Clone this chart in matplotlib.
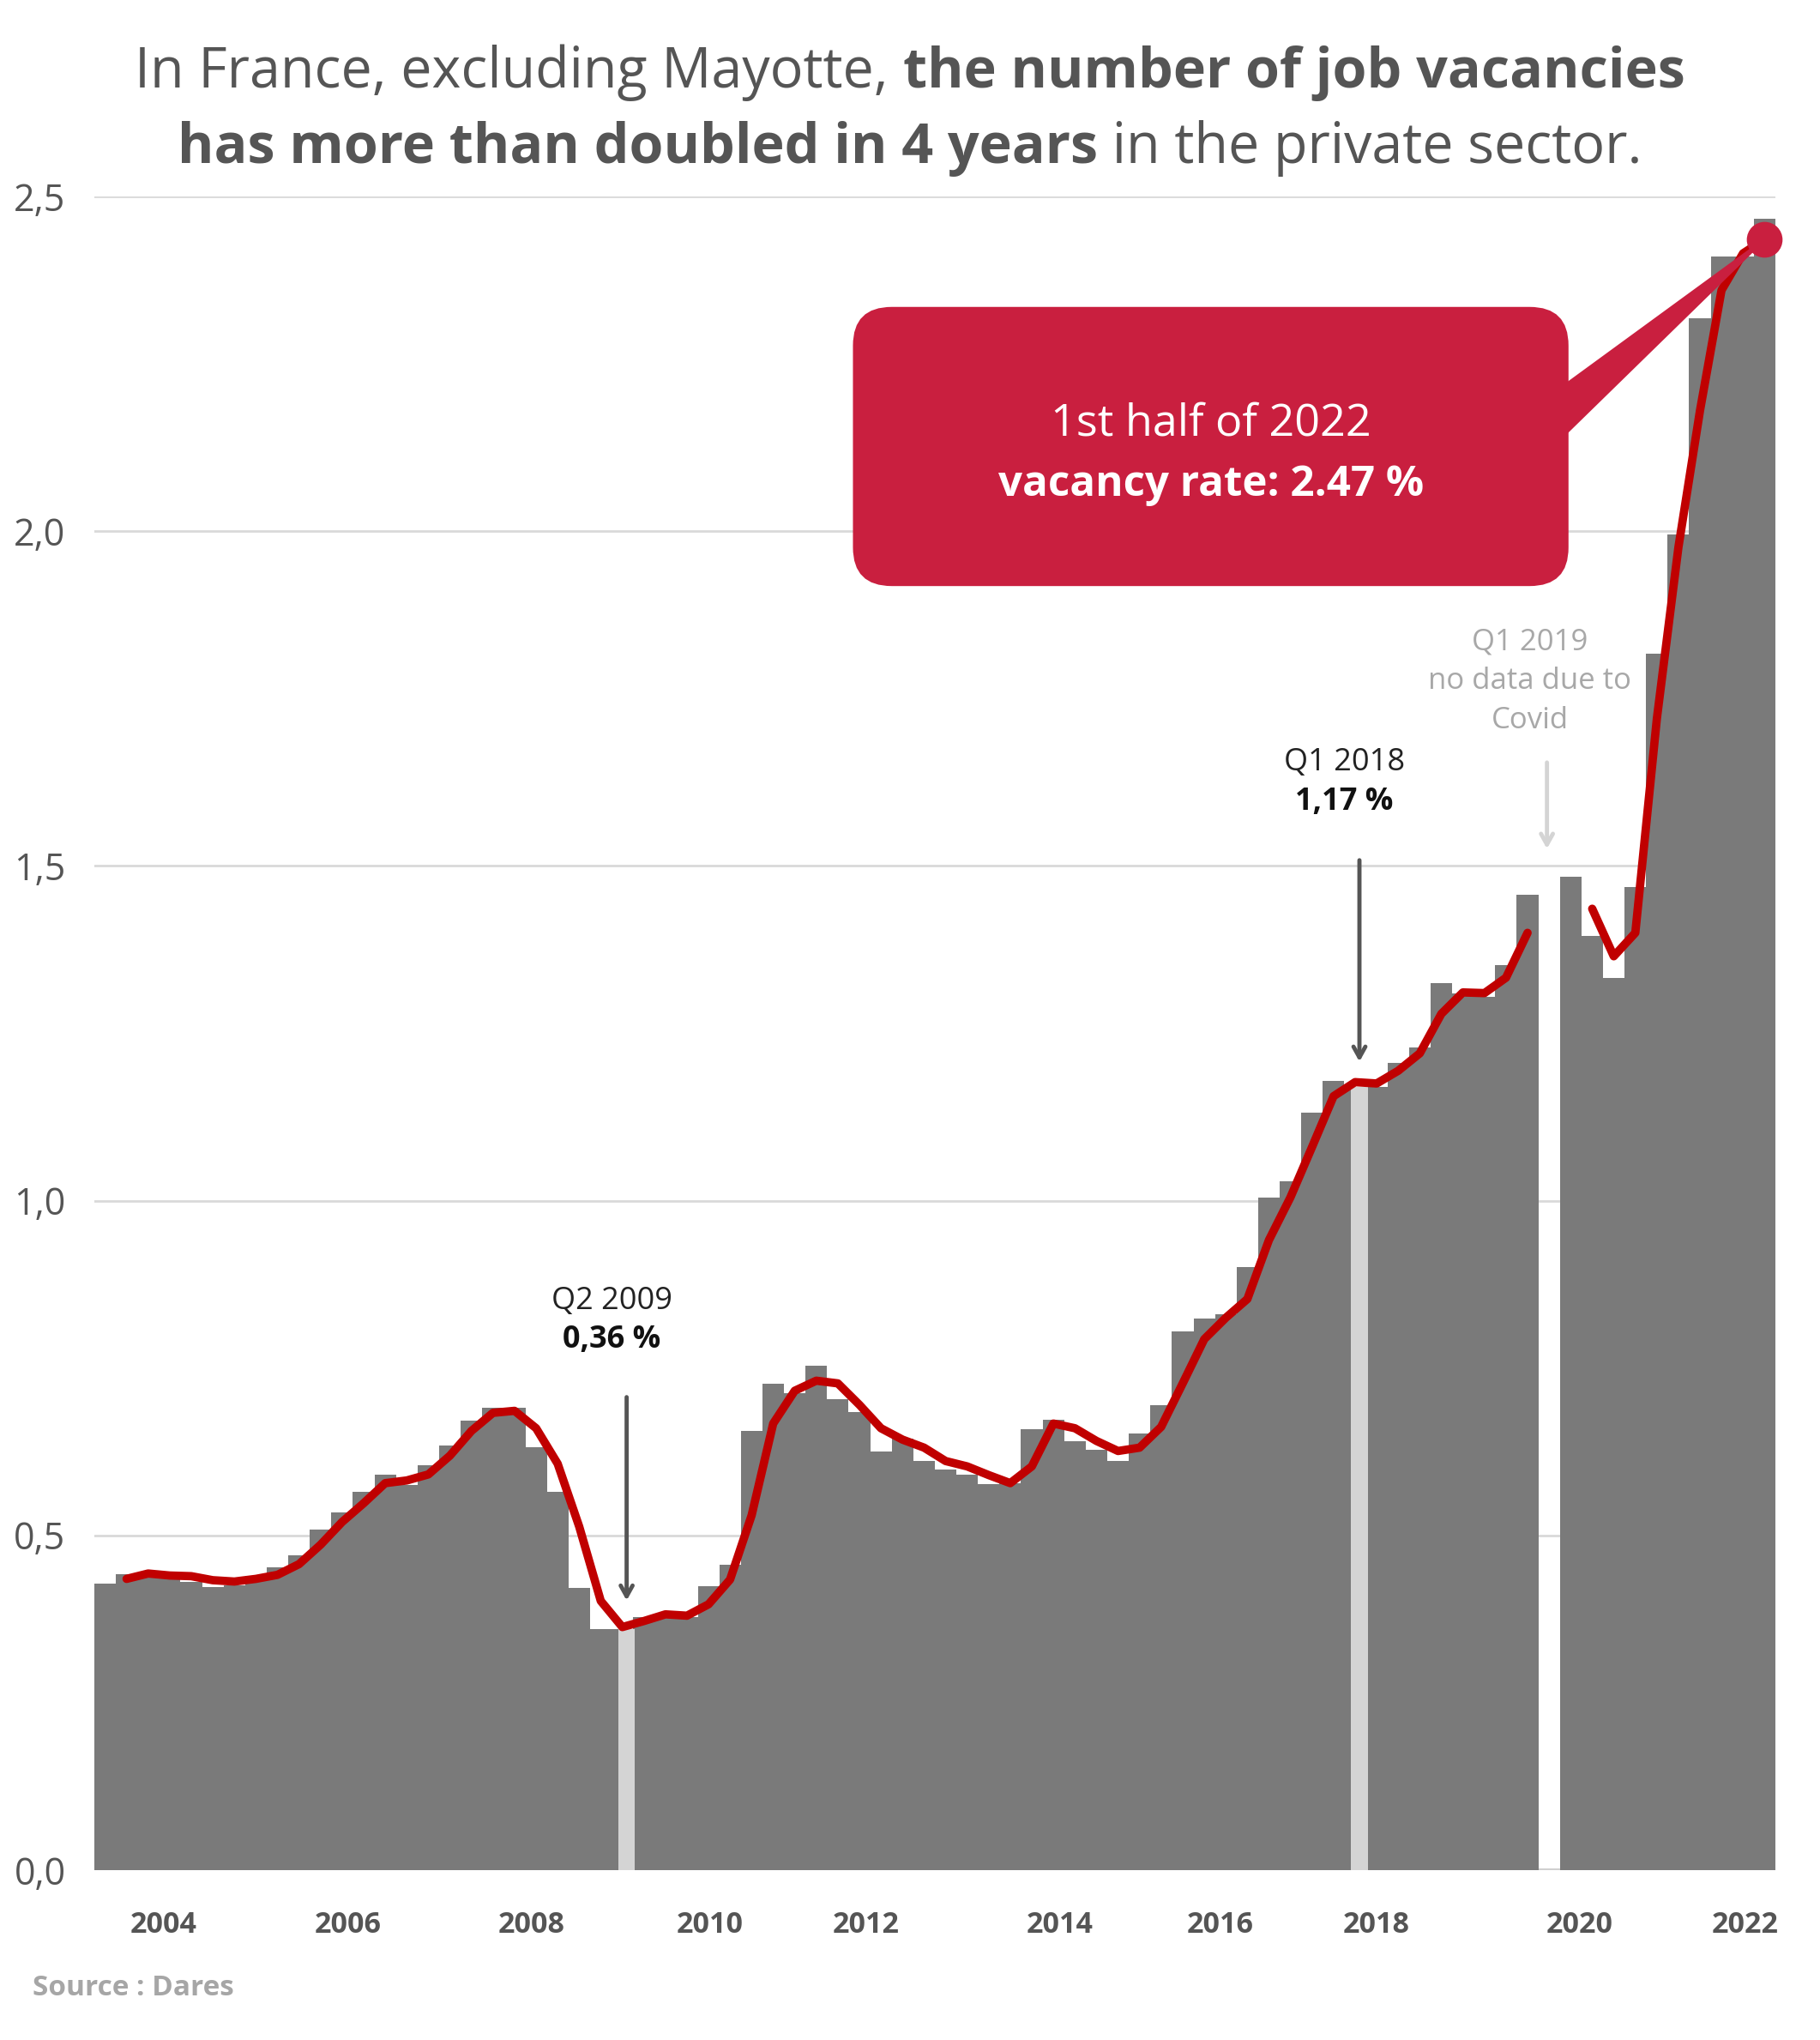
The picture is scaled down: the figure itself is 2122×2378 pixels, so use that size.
import numpy as np
import matplotlib
matplotlib.use("Agg")
from matplotlib import pyplot as plt
from matplotlib.patches import FancyBboxPatch, Polygon
from matplotlib.offsetbox import TextArea, HPacker, AnchoredOffsetbox

# quarterly job vacancy rate (%), 2003 Q2 -> 2022 Q3, one slot missing (Covid)
bar_values = [
    0.428, 0.442, 0.437, 0.435, 0.430, 0.423, 0.425, 0.440, 0.452, 0.470,
    0.509, 0.534, 0.565, 0.591, 0.575, 0.605, 0.634, 0.672, 0.690, 0.690,
    0.632, 0.565, 0.422, 0.360, 0.360, 0.378, 0.380, 0.378, 0.424, 0.456,
    0.656, 0.726, 0.712, 0.754, 0.703, 0.684, 0.625, 0.645, 0.611, 0.598,
    0.590, 0.576, 0.578, 0.659, 0.673, 0.640, 0.628, 0.611, 0.652, 0.694,
    0.805, 0.824, 0.830, 0.901, 1.005, 1.029, 1.132, 1.179, 1.167, 1.170,
    1.206, 1.229, 1.325, 1.310, 1.305, 1.352, 1.457, np.nan, 1.484, 1.395,
    1.333, 1.468, 1.817, 1.995, 2.318, 2.410, 2.410, 2.467,
]

# smoothed trend (red line)
trend_values = [
    np.nan, 0.435, 0.443, 0.440, 0.439, 0.433, 0.431, 0.435, 0.441, 0.457,
    0.486, 0.520, 0.548, 0.578, 0.582, 0.591, 0.619, 0.656, 0.683, 0.686,
    0.660, 0.607, 0.513, 0.402, 0.363, 0.372, 0.382, 0.380, 0.397, 0.434,
    0.530, 0.667, 0.716, 0.731, 0.727, 0.695, 0.660, 0.643, 0.631, 0.611,
    0.603, 0.590, 0.578, 0.603, 0.667, 0.660, 0.641, 0.626, 0.631, 0.662,
    0.727, 0.793, 0.825, 0.853, 0.941, 1.005, 1.080, 1.156, 1.177, 1.175,
    1.194, 1.220, 1.279, 1.311, 1.310, 1.333, 1.400, np.nan, np.nan, 1.436,
    1.365, 1.400, 1.720, 1.976, 2.180, 2.360, 2.415, 2.436,
]

highlight_idx = [24, 58]
highlight_vals = [0.36, 1.17]
highlight_labels = [("Q2 2009", "0,36 %"), ("Q1 2018", "1,17 %")]

year_labels = ["2004", "2006", "2008", "2010", "2012", "2014", "2016", "2018", "2020", "2022"]
year_pos = [2.7, 11.25, 19.8, 28.05, 35.3, 44.3, 51.75, 59.0, 68.4, 76.1]

y_ticks = [0, 0.5, 1.0, 1.5, 2.0, 2.5]
y_tick_labels = ["0,0", "0,5", "1,0", "1,5", "2,0", "2,5"]

last_label = ("1st half of 2022", "vacancy rate: 2.47 %")

GREY = "#7a7a7a"
RED = "#c00000"
CRIMSON = "#c91f3f"
TEXT = "#555555"
FONT = "Open Sans"

plt.rcParams["font.family"] = [FONT, "DejaVu Sans"]

fig = plt.figure(figsize=(21.22, 23.78), dpi=100)
ax = fig.add_axes([0.0518, 0.0833, 0.9237, 0.8204])

x = np.arange(len(bar_values))
ax.bar(x, bar_values, width=1.0, color=GREY, linewidth=0, zorder=2)
ax.bar(np.array(highlight_idx) + 0.2, highlight_vals, width=0.78,
       color="#d4d4d4", linewidth=0, zorder=3)
ax.plot(x, trend_values, color=RED, lw=7, solid_capstyle="round",
        solid_joinstyle="round", zorder=4)

ax.set_xlim(-0.5, len(bar_values) - 0.5)
ax.set_ylim(0, 2.5)
ax.set_yticks(y_ticks)
ax.set_yticklabels(y_tick_labels)
ax.set_xticks(year_pos)
ax.set_xticklabels(year_labels)
ax.tick_params(axis="y", length=0, pad=24, labelsize=31, labelcolor=TEXT)
ax.tick_params(axis="x", length=0, pad=34, labelsize=24.5, labelcolor=TEXT)
for lab in ax.get_xticklabels():
    lab.set_fontweight("bold")
ax.grid(axis="y", color="#d9d9d9", lw=2, zorder=0)
ax.set_axisbelow(True)
for s in ax.spines.values():
    s.set_visible(False)
ax.axhline(0, color="#d0d0d0", lw=3, zorder=1)

# annotations for the two highlighted quarters
ann_text_y = [(0.85, 0.792, 0.71, 0.399), (1.654, 1.595, 1.512, 1.204)]
for idx, (q, v), (ty1, ty2, a0, a1) in zip(highlight_idx, highlight_labels, ann_text_y):
    ax.text(idx - 0.5, ty1, q, ha="center", va="center", fontsize=26, color="#222222")
    ax.text(idx - 0.5, ty2, v, ha="center", va="center", fontsize=26,
            color="#111111", fontweight="bold")
    ax.annotate("", xy=(idx + 0.2, a1), xytext=(idx + 0.2, a0),
                arrowprops=dict(arrowstyle="->,head_length=0.9,head_width=0.5",
                                color="#555555", lw=3.5), zorder=5)

# covid gap note
ax.text(66.1, 1.776, "Q1 2019\nno data due to\nCovid", ha="center", va="center",
        fontsize=25, color="#a8a8a8", linespacing=1.45)
ax.annotate("", xy=(66.9, 1.522), xytext=(66.9, 1.658),
            arrowprops=dict(arrowstyle="->,head_length=0.9,head_width=0.5",
                            color="#d4d4d4", lw=3.5), zorder=5)

# callout box
box = FancyBboxPatch((34.7, 1.918), 33.2, 0.417,
                     boxstyle="round,pad=0,rounding_size=1.8",
                     mutation_aspect=0.032, fc=CRIMSON, ec="none", zorder=6)
ax.add_patch(box)
tail = Polygon([(67.3, 2.208), (x[-1], bar_values[-1] - 0.031), (67.3, 2.131)],
               closed=True, fc=CRIMSON, ec=CRIMSON, lw=2, zorder=6)
ax.add_patch(tail)
ax.plot(x[-1], trend_values[-1], "o", ms=29, color=CRIMSON, zorder=7, clip_on=False)
ax.text(51.3, 2.161, last_label[0], ha="center", va="center", fontsize=37.5,
        color="white", zorder=8)
ax.text(51.3, 2.069, last_label[1], ha="center", va="center", fontsize=35.5,
        color="white", fontweight="bold", zorder=8)


def rich_line(parts, y, size):
    boxes = [TextArea(t, textprops=dict(fontsize=size, fontweight=w, color=TEXT,
                                        family=FONT))
             for t, w in parts]
    pack = HPacker(children=boxes, align="baseline", pad=0, sep=0)
    anc = AnchoredOffsetbox(loc="center", child=pack, frameon=False,
                            bbox_to_anchor=(0.5, y), bbox_transform=fig.transFigure,
                            borderpad=0)
    fig.add_artist(anc)


rich_line([("In France, excluding Mayotte, ", "normal"),
           ("the number of job vacancies", "bold")], 0.9643, 46.5)
rich_line([("has more than doubled in 4 years", "bold"),
           (" in the private sector.", "normal")], 0.9273, 46.5)

fig.text(38 / 2122, 1 - 2318 / 2378, "Source : Dares", ha="left", va="center",
         fontsize=24, fontweight="bold", color="#a6a6a6")

fig.savefig("out.png", dpi=100)
